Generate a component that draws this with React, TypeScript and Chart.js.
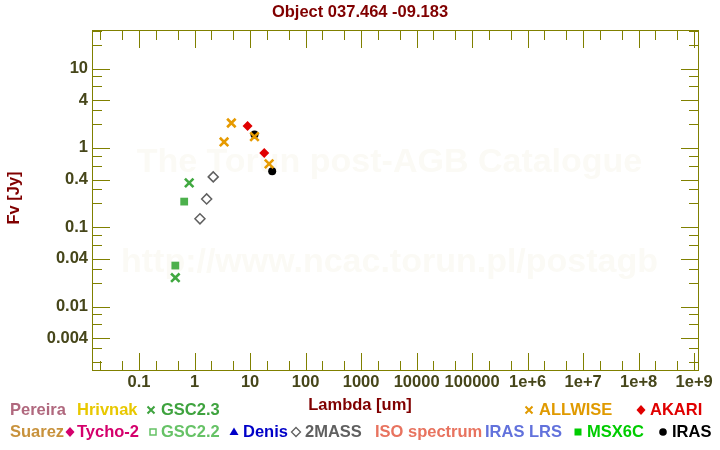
import React, { useEffect, useRef } from 'react';
import { Chart, registerables } from 'chart.js';

Chart.register(...registerables);

// ---- text ----
const titleText = 'Object 037.464 -09.183';
const xTitle = 'Lambda [um]';
const yTitle = 'Fv [Jy]';
const watermark1 = 'The Torun post-AGB Catalogue';
const watermark2 = 'http://www.ncac.torun.pl/postagb';

// ---- data (wavelength in um, flux in Jy) ----
const allwiseX = [3.4, 4.6, 12, 22];
const allwiseY = [1.19, 2.06, 1.39, 0.63];
const akariX = [9, 18];
const akariY = [1.89, 0.865];
const irasX = [12, 25];
const irasY = [1.48, 0.51];
const twomassX = [1.25, 1.65, 2.17];
const twomassY = [0.128, 0.228, 0.432];
const gsc23X = [0.45, 0.8];
const gsc23Y = [0.0232, 0.363];
const gsc22X = [0.45, 0.65];
const gsc22Y = [0.033, 0.211];

// ---- axis ticks ----
const xTickValues = [0.1, 1, 10, 100, 1000, 10000, 100000, 1e6, 1e7, 1e8, 1e9];
const xMinorMult = [2, 5];
const yTickValues = [0.004, 0.01, 0.04, 0.1, 0.4, 1, 4, 10];
const yMinorMult = [2, 3, 6, 8];
const xRange = [0.0142, 1.22e9];
const yRange = [0.00155, 30.6];

// ---- legend ----
const legendRow1 = [
  { text: 'Pereira', color: '#b0687e', x: 10 },
  { text: 'Hrivnak', color: '#e8c800', x: 77 },
  { text: 'GSC2.3', color: '#3fa33f', x: 161, marker: 'cross', mx: 151 },
  { text: 'ALLWISE', color: '#e09a00', x: 539, marker: 'cross', mx: 529 },
  { text: 'AKARI', color: '#e00000', x: 650, marker: 'diamond', mx: 641 },
];
const legendRow2 = [
  { text: 'Suarez', color: '#c8923c', x: 10 },
  { text: 'Tycho-2', color: '#d4006c', x: 77, marker: 'diamond', mx: 70 },
  { text: 'GSC2.2', color: '#66c266', x: 161, marker: 'openSquare', mx: 153 },
  { text: 'Denis', color: '#0000c8', x: 243, marker: 'triangle', mx: 234 },
  { text: '2MASS', color: '#606060', x: 305, marker: 'openDiamond', mx: 296 },
  { text: 'ISO spectrum', color: '#e8735f', x: 375 },
  { text: 'IRAS LRS', color: '#6272dc', x: 485 },
  { text: 'MSX6C', color: '#00cc00', x: 587, marker: 'square', mx: 578 },
  { text: 'IRAS', color: '#000000', x: 672, marker: 'circle', mx: 663 },
];

const FONT = '"Liberation Sans", Arial, Helvetica, sans-serif';
const OLIVE = '#808000';
const TICKTEXT = '#46461a';
const DARKRED = '#800000';
const TXT = 'bold 16.5px ' + FONT;

function pts(xs: number[], ys: number[]) {
  return xs.map((x, i) => ({ x, y: ys[i] }));
}

function fmtX(v: number) {
  if (v >= 1e6) return '1e+' + Math.round(Math.log10(v));
  return String(v);
}

function drawMarker(ctx: CanvasRenderingContext2D, type: string, x: number, y: number, color: string) {
  ctx.save();
  ctx.strokeStyle = color;
  ctx.fillStyle = color;
  ctx.lineWidth = 2;
  ctx.beginPath();
  if (type === 'cross') {
    ctx.moveTo(x - 3.5, y - 3.5); ctx.lineTo(x + 3.5, y + 3.5);
    ctx.moveTo(x + 3.5, y - 3.5); ctx.lineTo(x - 3.5, y + 3.5);
    ctx.stroke();
  } else if (type === 'diamond') {
    ctx.moveTo(x, y - 5); ctx.lineTo(x + 4.5, y); ctx.lineTo(x, y + 5); ctx.lineTo(x - 4.5, y); ctx.closePath();
    ctx.fill();
  } else if (type === 'openDiamond') {
    ctx.lineWidth = 1.3;
    ctx.moveTo(x, y - 4.5); ctx.lineTo(x + 4.5, y); ctx.lineTo(x, y + 4.5); ctx.lineTo(x - 4.5, y); ctx.closePath();
    ctx.stroke();
  } else if (type === 'openSquare') {
    ctx.lineWidth = 1.5;
    ctx.strokeRect(x - 3, y - 3, 6, 6);
  } else if (type === 'square') {
    ctx.fillRect(x - 3.5, y - 3.5, 7, 7);
  } else if (type === 'triangle') {
    ctx.moveTo(x, y - 4.5); ctx.lineTo(x + 4.5, y + 3); ctx.lineTo(x - 4.5, y + 3); ctx.closePath();
    ctx.fill();
  } else if (type === 'circle') {
    ctx.arc(x, y, 3.8, 0, Math.PI * 2);
    ctx.fill();
  }
  ctx.restore();
}

const decorPlugin = {
  id: 'decor',
  beforeDatasetsDraw(chart: any) {
    const { ctx, chartArea } = chart;
    ctx.save();
    ctx.fillStyle = '#fbfaf5';
    ctx.font = 'bold 34px ' + FONT;
    ctx.textAlign = 'center';
    ctx.textBaseline = 'middle';
    const cx = (chartArea.left + chartArea.right) / 2 - 6;
    ctx.fillText(watermark1, cx, 163);
    ctx.fillText(watermark2, cx, 263);
    ctx.restore();
  },
  afterDraw(chart: any) {
    const { ctx, chartArea } = chart;
    const xs = chart.scales.x;
    const ys = chart.scales.y;
    const L = chartArea.left, R = chartArea.right, T = chartArea.top, B = chartArea.bottom;
    ctx.save();
    ctx.strokeStyle = OLIVE;
    ctx.lineWidth = 1;
    ctx.strokeRect(L + 0.5, T + 0.5, R - L - 1, B - T - 1);
    const MAJ = 18, MIN = 10;
    ctx.beginPath();
    for (let k = -2; k <= 9; k++) {
      const base = Math.pow(10, k);
      const list: [number, number][] = [[base, MAJ], ...xMinorMult.map((m) => [m * base, MIN] as [number, number])];
      for (const [v, len] of list) {
        if (v < xRange[0] || v > xRange[1]) continue;
        const px = Math.round(xs.getPixelForValue(v)) + 0.5;
        ctx.moveTo(px, B); ctx.lineTo(px, B - len);
        ctx.moveTo(px, T); ctx.lineTo(px, T + len);
      }
    }
    for (let k = -3; k <= 1; k++) {
      const base = Math.pow(10, k);
      const list: [number, number][] = [[base, MAJ], [4 * base, MAJ], ...yMinorMult.map((m) => [m * base, MIN] as [number, number])];
      for (const [v, len] of list) {
        if (v < yRange[0] || v > yRange[1]) continue;
        const py = Math.round(ys.getPixelForValue(v)) + 0.5;
        ctx.moveTo(L, py); ctx.lineTo(L + len, py);
        ctx.moveTo(R, py); ctx.lineTo(R - len, py);
      }
    }
    ctx.stroke();

    ctx.fillStyle = DARKRED;
    ctx.font = TXT;
    ctx.textAlign = 'center';
    ctx.textBaseline = 'middle';
    ctx.fillText(titleText, 360, 12);
    ctx.fillText(xTitle, 360, 405);
    ctx.save();
    ctx.translate(14, 198);
    ctx.rotate(-Math.PI / 2);
    ctx.fillText(yTitle, 0, 0);
    ctx.restore();

    ctx.textAlign = 'left';
    const rows: [any[], number][] = [[legendRow1, 410], [legendRow2, 432]];
    for (const [row, y] of rows) {
      for (const item of row) {
        if (item.marker) drawMarker(ctx, item.marker, item.mx, y, item.color);
        ctx.fillStyle = item.color;
        ctx.font = TXT;
        ctx.fillText(item.text, item.x, y);
      }
    }
    ctx.restore();
  },
};

export default function App() {
  const ref = useRef<HTMLCanvasElement>(null);
  useEffect(() => {
    document.body.style.margin = '0';
    const chart = new Chart(ref.current as HTMLCanvasElement, {
      type: 'scatter',
      data: {
        datasets: [
          { label: 'ALLWISE', data: pts(allwiseX, allwiseY), pointStyle: 'crossRot', radius: 6, borderWidth: 2.6, borderColor: '#e69a00', backgroundColor: '#e69a00' },
          { label: 'AKARI', data: pts(akariX, akariY), pointStyle: 'rectRot', radius: 5, borderWidth: 0, backgroundColor: '#e00000', borderColor: '#e00000' },
          { label: 'IRAS', data: pts(irasX, irasY), pointStyle: 'circle', radius: 4, borderWidth: 0, backgroundColor: '#000000', borderColor: '#000000' },
          { label: '2MASS', data: pts(twomassX, twomassY), pointStyle: 'rectRot', radius: 5, borderWidth: 1.5, backgroundColor: 'rgba(255,255,255,0)', borderColor: '#606060' },
          { label: 'GSC2.3', data: pts(gsc23X, gsc23Y), pointStyle: 'crossRot', radius: 6, borderWidth: 2.6, borderColor: '#40a840', backgroundColor: '#40a840' },
          { label: 'GSC2.2', data: pts(gsc22X, gsc22Y), pointStyle: 'rect', radius: 5.5, borderWidth: 0, backgroundColor: '#4cb04c', borderColor: '#4cb04c' },
        ],
      },
      options: {
        responsive: false,
        animation: false,
        events: [],
        layout: { padding: { left: 0, top: 30, right: 21, bottom: 0 } },
        plugins: { legend: { display: false }, tooltip: { enabled: false }, title: { display: false } },
        scales: {
          x: {
            type: 'logarithmic',
            min: xRange[0],
            max: xRange[1],
            bounds: 'data',
            grid: { display: false, drawTicks: false },
            border: { display: false },
            afterBuildTicks: (s: any) => { s.ticks = xTickValues.map((v) => ({ value: v })); },
            afterFit: (s: any) => { s.height = 79; },
            ticks: {
              autoSkip: false,
              maxRotation: 0,
              padding: 2,
              color: TICKTEXT,
              font: { family: FONT, size: 16.5, weight: 'bold' },
              callback: (v: any) => fmtX(Number(v)),
            },
          },
          y: {
            type: 'logarithmic',
            min: yRange[0],
            max: yRange[1],
            bounds: 'data',
            grid: { display: false, drawTicks: false },
            border: { display: false },
            afterBuildTicks: (s: any) => { s.ticks = yTickValues.map((v) => ({ value: v })); },
            afterFit: (s: any) => { s.width = 92; },
            ticks: {
              autoSkip: false,
              padding: 4,
              color: TICKTEXT,
              font: { family: FONT, size: 16.5, weight: 'bold' },
              callback: (v: any) => String(Number(v)),
            },
          },
        },
      },
      plugins: [decorPlugin],
    } as any);
    return () => chart.destroy();
  }, []);
  return (
    <div style={{ position: 'fixed', left: 0, top: 0, width: 720, height: 450, background: '#ffffff' }}>
      <canvas ref={ref} width={720} height={450} />
    </div>
  );
}
